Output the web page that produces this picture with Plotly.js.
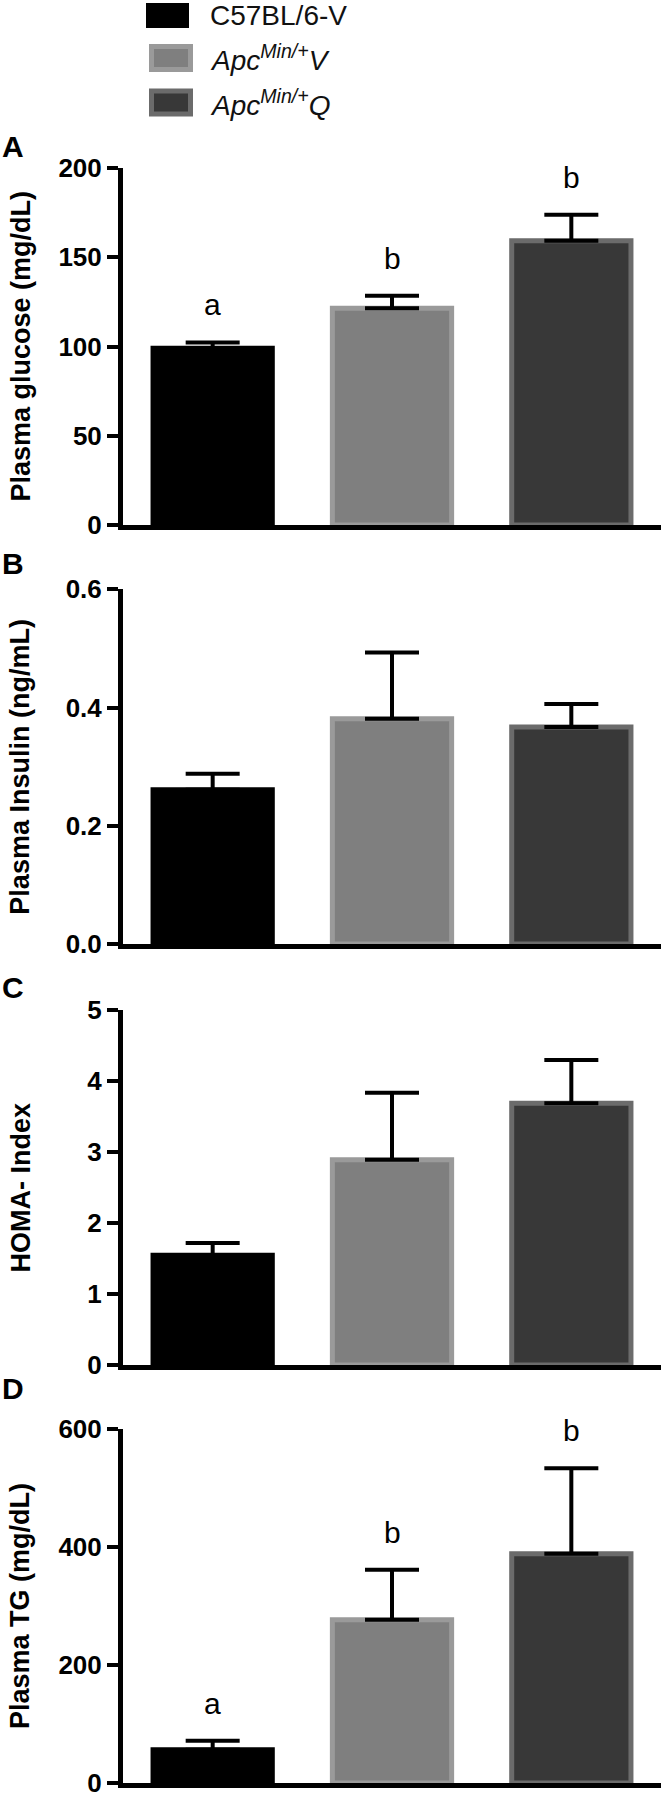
<!DOCTYPE html>
<html><head><meta charset="utf-8">
<script src="https://cdn.plot.ly/plotly-3.0.1.min.js"></script>
<style>html,body{margin:0;padding:0;background:#fff}</style>
</head><body><div id="chart" style="width:661px;height:1798px"></div>
<script>
// ---- data ----
const categories = ['C57BL/6-V', 'ApcMin/+V', 'ApcMin/+Q'];
const legendLabels = ['C57BL/6-V', '<i>Apc<sup>Min/+</sup>V</i>', '<i>Apc<sup>Min/+</sup>Q</i>'];
const panelLetters = ['A', 'B', 'C', 'D'];
const yTitles = ['Plasma glucose (mg/dL)', 'Plasma Insulin (ng/mL)', 'HOMA- Index', 'Plasma TG (mg/dL)'];

const glucose = [99.0, 121.4, 159.2];
const glucoseErr = [3.3, 7.0, 14.6];
const insulin = [0.261, 0.381, 0.367];
const insulinErr = [0.027, 0.112, 0.039];
const homa = [1.545, 2.89, 3.685];
const homaErr = [0.175, 0.946, 0.611];
const tg = [56.3, 276.6, 388.5];
const tgErr = [15.5, 85.0, 144.8];

const glucoseLetters = ['a', 'b', 'b'];
const tgLetters = ['a', 'b', 'b'];

const glucoseTicks = [0, 50, 100, 150, 200];
const insulinTicks = [0, 0.2, 0.4, 0.6];
const homaTicks = [0, 1, 2, 3, 4, 5];
const tgTicks = [0, 200, 400, 600];

// ---- styling ----
const W = 661, H = 1798;
const fills = ['#000000', '#7f7f7f', '#383838'];
const edges = ['#000000', '#9a9a9a', '#6b6b6b'];
const FONT = 'Arial, "Liberation Sans", sans-serif';

const panels = [
  {vals: glucose, err: glucoseErr, ticks: glucoseTicks, fmt: '', top: 168, bot: 525, letters: glucoseLetters, letterY: 146},
  {vals: insulin, err: insulinErr, ticks: insulinTicks, fmt: '.1f', top: 589.3, bot: 944, letters: null, letterY: 563},
  {vals: homa, err: homaErr, ticks: homaTicks, fmt: '', top: 1010, bot: 1365, letters: null, letterY: 987},
  {vals: tg, err: tgErr, ticks: tgTicks, fmt: '', top: 1429, bot: 1783, letters: tgLetters, letterY: 1388}
];

const data = [];
const layout = {
  width: W, height: H,
  margin: {l: 0, r: 0, t: 0, b: 0},
  paper_bgcolor: '#fff', plot_bgcolor: '#fff',
  showlegend: false,
  annotations: [], shapes: []
};

panels.forEach((p, i) => {
  const n = i + 1;
  data.push({
    type: 'bar', x: categories, y: p.vals, width: 0.665,
    marker: {color: fills, line: {color: edges, width: 5}},
    error_y: {type: 'data', symmetric: false, array: p.err, arrayminus: [0, 0, 0],
              color: '#000', thickness: 4, width: 27},
    xaxis: 'x' + n, yaxis: 'y' + n, hoverinfo: 'skip', showlegend: false
  });
  const ymax = p.ticks[p.ticks.length - 1];
  layout['xaxis' + n] = {
    domain: [123 / W, 1], range: [-0.5, 2.5], type: 'category',
    showline: true, linewidth: 5, linecolor: '#000',
    showticklabels: false, ticks: '', showgrid: false, zeroline: false,
    anchor: 'y' + n, fixedrange: true
  };
  layout['yaxis' + n] = {
    domain: [1 - p.bot / H, 1 - p.top / H], range: [0, ymax],
    tickvals: p.ticks, tickformat: p.fmt,
    ticks: 'outside', ticklen: 11, tickwidth: 4, tickcolor: '#000',
    showline: true, linewidth: 5, linecolor: '#000',
    showgrid: false, zeroline: false, ticklabeloverflow: 'allow',
    tickfont: {family: FONT, size: 26, color: '#000', weight: 'bold'},
    anchor: 'x' + n, fixedrange: true
  };
  // y title
  layout.annotations.push({
    xref: 'paper', yref: 'paper', x: 20 / W, y: 1 - (p.top + p.bot) / 2 / H,
    text: yTitles[i], textangle: -90, showarrow: false,
    xanchor: 'center', yanchor: 'middle',
    font: {family: FONT, size: 27, color: '#000', weight: 'bold'}
  });
  // panel letter
  layout.annotations.push({
    xref: 'paper', yref: 'paper', x: 13.5 / W, y: 1 - p.letterY / H,
    text: panelLetters[i], showarrow: false, xanchor: 'center', yanchor: 'middle',
    font: {family: FONT, size: 30, color: '#000', weight: 'bold'}
  });
  // significance letters
  if (p.letters) {
    p.letters.forEach((t, k) => {
      layout.annotations.push({
        xref: 'x' + n, yref: 'y' + n, x: categories[k], y: p.vals[k] + p.err[k],
        text: t, showarrow: false, xanchor: 'center', yanchor: 'bottom', yshift: 19,
        font: {family: FONT, size: 30, color: '#000'}
      });
    });
  }
});

// legend (drawn as shapes + text)
const legY = [15.5, 58, 102.5];
legendLabels.forEach((lab, k) => {
  const cy = legY[k];
  if (k === 0) {
    layout.shapes.push({type: 'rect', xref: 'paper', yref: 'paper',
      x0: 146 / W, x1: 189 / W, y0: 1 - (cy - 12.5) / H, y1: 1 - (cy + 12.5) / H,
      fillcolor: fills[k], line: {width: 0}});
  } else {
    layout.shapes.push({type: 'rect', xref: 'paper', yref: 'paper',
      x0: 151.5 / W, x1: 190.5 / W, y0: 1 - (cy - 11.5) / H, y1: 1 - (cy + 11.5) / H,
      fillcolor: fills[k], line: {width: 5, color: edges[k]}});
  }
  layout.annotations.push({
    xref: 'paper', yref: 'paper', x: 208 / W, y: 1 - cy / H,
    text: lab, showarrow: false, xanchor: 'left', yanchor: 'middle',
    font: {family: FONT, size: 28, color: '#111'}
  });
});

Plotly.newPlot('chart', data, layout, {staticPlot: true, displayModeBar: false});
</script>
</body></html>
